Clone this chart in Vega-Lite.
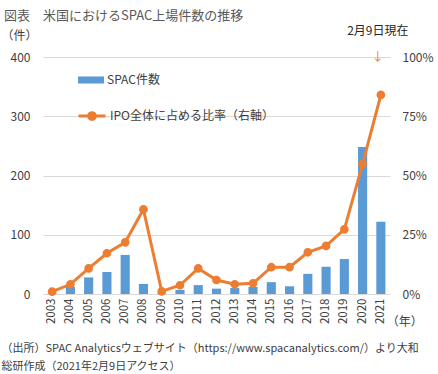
{
  "$schema": "https://vega.github.io/schema/vega-lite/v6.json",
  "autosize": {"type": "none"},
  "width": 347,
  "height": 237,
  "padding": {"left": 43, "top": 57, "right": 48, "bottom": 80},
  "background": "white",
  "config": {
    "font": "Noto Sans CJK JP",
    "view": {"stroke": null},
    "axis": {"labelColor": "#404040", "titleColor": "#404040", "labelFont": "Noto Sans CJK JP", "titleFont": "Noto Sans CJK JP", "titleFontWeight": "normal"},
    "legend": {"labelFont": "Noto Sans CJK JP", "labelColor": "#404040", "labelFontSize": 12, "labelLimit": 300}
  },
  "title": {
    "text": "図表　米国におけるSPAC上場件数の推移",
    "anchor": "start",
    "frame": "group",
    "dx": -39,
    "offset": 2,
    "fontSize": 13,
    "fontWeight": "normal",
    "color": "#595959",
    "font": "Noto Sans CJK JP"
  },
  "data": {
    "values": [
      {"year": "2003", "count": 1, "pct": 0.01},
      {"year": "2004", "count": 12, "pct": 0.041},
      {"year": "2005", "count": 28, "pct": 0.108},
      {"year": "2006", "count": 37, "pct": 0.172},
      {"year": "2007", "count": 66, "pct": 0.218},
      {"year": "2008", "count": 17, "pct": 0.357},
      {"year": "2009", "count": 1, "pct": 0.011},
      {"year": "2010", "count": 7, "pct": 0.037},
      {"year": "2011", "count": 15, "pct": 0.108},
      {"year": "2012", "count": 9, "pct": 0.059},
      {"year": "2013", "count": 10, "pct": 0.041},
      {"year": "2014", "count": 12, "pct": 0.045},
      {"year": "2015", "count": 20, "pct": 0.113},
      {"year": "2016", "count": 13, "pct": 0.113},
      {"year": "2017", "count": 34, "pct": 0.176},
      {"year": "2018", "count": 46, "pct": 0.203},
      {"year": "2019", "count": 59, "pct": 0.273},
      {"year": "2020", "count": 248, "pct": 0.549},
      {"year": "2021", "count": 122, "pct": 0.84}
    ]
  },
  "encoding": {
    "x": {
      "field": "year",
      "type": "ordinal",
      "scale": {"paddingInner": 0.5, "paddingOuter": 0.25},
      "axis": {
        "labelAngle": -90,
        "labelFontSize": 11.5,
        "labelPadding": 4,
        "ticks": false,
        "domain": false,
        "title": ["（出所）SPAC Analyticsウェブサイト（https://www.spacanalytics.com/）より大和", "総研作成（2021年2月9日アクセス）"],
        "titleFontSize": 11,
        "titleAlign": "left",
        "titleAnchor": "start",
        "titleBaseline": "top",
        "titleX": -42,
        "titleY": 48,
        "titleLineHeight": 18
      }
    }
  },
  "layer": [
    {
      "mark": {"type": "bar", "color": "#5B9BD5"},
      "encoding": {
        "y": {
          "field": "count",
          "type": "quantitative",
          "scale": {"domain": [0, 400]},
          "axis": {
            "values": [0, 100, 200, 300, 400],
            "labelFontSize": 12,
            "labelPadding": 13,
            "ticks": false,
            "domain": false,
            "gridColor": "#D9D9D9",
            "title": "（件）",
            "titleAngle": 0,
            "titleFontSize": 12,
            "titleAlign": "center",
            "titleBaseline": "middle",
            "titleX": -24,
            "titleY": -22
          }
        },
        "fill": {
          "datum": "SPAC件数",
          "type": "nominal",
          "scale": {"range": ["#5B9BD5"]},
          "legend": {
            "title": null,
            "orient": "none",
            "legendX": 35,
            "legendY": 10,
            "symbolType": "M-1,-0.27H1V0.27H-1Z",
            "symbolSize": 676,
            "symbolStrokeWidth": 0,
            "labelOffset": 3
          }
        }
      }
    },
    {
      "mark": {"type": "line", "color": "#ED7D31", "strokeWidth": 3, "point": {"filled": true, "size": 45, "color": "#ED7D31"}},
      "encoding": {
        "y": {
          "field": "pct",
          "type": "quantitative",
          "scale": {"domain": [0, 1]},
          "axis": {
            "orient": "right",
            "values": [0, 0.25, 0.5, 0.75, 1],
            "format": ".0%",
            "labelFontSize": 12,
            "labelPadding": 12,
            "ticks": false,
            "domain": false,
            "grid": false,
            "title": null
          }
        },
        "stroke": {
          "datum": "IPO全体に占める比率（右軸）",
          "type": "nominal",
          "scale": {"range": ["#ED7D31"]},
          "legend": {
            "title": null,
            "orient": "none",
            "legendX": 34,
            "legendY": 44,
            "symbolType": "M-1,0H1M-0.25,0A0.25,0.25,0,1,0,0.25,0A0.25,0.25,0,1,0,-0.25,0",
            "symbolSize": 729,
            "symbolStrokeWidth": 3,
            "symbolFillColor": "#ED7D31",
            "labelOffset": 3
          }
        }
      }
    },
    {
      "data": {"values": [{"year": "2021", "count": 400, "label": "2月9日現在", "arrow": "↓"}]},
      "layer": [
        {
          "mark": {"type": "text", "fontSize": 12, "color": "#262626", "dy": -26, "dx": -3, "align": "center", "baseline": "middle"},
          "encoding": {"y": {"field": "count", "type": "quantitative", "scale": {"domain": [0, 400]}, "axis": null}, "text": {"field": "label"}}
        },
        {
          "mark": {"type": "text", "fontSize": 12, "color": "#E0862F", "dx": -3, "align": "center", "baseline": "middle"},
          "encoding": {"y": {"field": "count", "type": "quantitative", "scale": {"domain": [0, 400]}, "axis": null}, "text": {"field": "arrow"}}
        }
      ]
    },
    {
      "data": {"values": [{"year": "2021", "count": 0, "label": "（年）"}]},
      "mark": {"type": "text", "fontSize": 12, "color": "#404040", "dx": 6, "dy": 28, "align": "left", "baseline": "middle"},
      "encoding": {"y": {"field": "count", "type": "quantitative", "scale": {"domain": [0, 400]}, "axis": null}, "text": {"field": "label"}}
    }
  ],
  "resolve": {"scale": {"y": "independent"}}
}
